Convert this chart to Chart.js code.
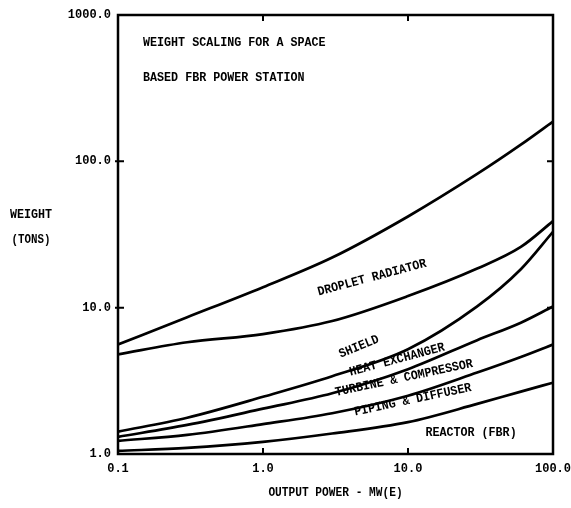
<!DOCTYPE html>
<html><head><meta charset="utf-8">
<script src="https://cdn.jsdelivr.net/npm/chart.js@4/dist/chart.umd.min.js"></script>
<style>html,body{margin:0;padding:0;background:#fff}#wrap{width:571px;height:508px}</style>
</head><body><div id="wrap"><canvas id="c" width="571" height="508"></canvas></div>
<script>
// ---- data ----
const powerMW = [0.1, 0.3, 1, 3, 10, 30, 60, 100];
const dropletRadiator   = [5.6, 8.6, 13.8, 22, 42, 82, 130, 187];
const shield            = [4.8, 5.8, 6.6, 8.1, 12, 18.5, 26, 39];
const heatExchanger     = [1.42, 1.77, 2.46, 3.4, 5.2, 10.2, 18.3, 33];
const turbineCompressor = [1.31, 1.58, 2.04, 2.6, 3.8, 6.0, 7.9, 10.2];
const pipingDiffuser    = [1.23, 1.35, 1.6, 1.9, 2.5, 3.6, 4.6, 5.6];
const reactorFBR        = [1.05, 1.1, 1.21, 1.38, 1.65, 2.2, 2.67, 3.07];
const seriesNames = ['DROPLET RADIATOR','SHIELD','HEAT EXCHANGER','TURBINE & COMPRESSOR','PIPING & DIFFUSER','REACTOR (FBR)'];
const xTicks = [0.1, 1, 10, 100];
const yTicks = [1, 10, 100, 1000];
const titleLines = ['WEIGHT SCALING FOR A SPACE', 'BASED FBR POWER STATION'];
const xTitle = 'OUTPUT POWER - MW(E)';
const yTitle = ['WEIGHT', '(TONS)'];
// label anchor in data coordinates [x, y, angle deg]
const labelAnchors = [[5.65, 16.0, -15], [4.6, 5.4, -22], [8.4, 4.4, -15], [9.4, 3.3, -12], [10.8, 2.34, -12], [27.2, 1.39, 0]];

const allSeries = [dropletRadiator, shield, heatExchanger, turbineCompressor, pipingDiffuser, reactorFBR];
const FONT = '"Liberation Mono", "DejaVu Sans Mono", monospace';

function squeezedText(ctx, text, x, y, angleDeg, size, sx, align) {
  ctx.save();
  ctx.translate(x, y);
  ctx.rotate((angleDeg || 0) * Math.PI / 180);
  ctx.scale(sx, 1);
  ctx.font = 'bold ' + size + 'px ' + FONT;
  ctx.textAlign = align || 'center';
  ctx.textBaseline = 'middle';
  ctx.fillText(text, 0, 0);
  ctx.restore();
}

const decor = {
  id: 'decor',
  afterDraw(chart) {
    const ctx = chart.ctx, a = chart.chartArea;
    const xs = chart.scales.x, ys = chart.scales.y;
    ctx.save();
    ctx.strokeStyle = '#000';
    ctx.lineWidth = 2.5;
    ctx.strokeRect(a.left, a.top, a.right - a.left, a.bottom - a.top);
    // inward ticks
    ctx.lineWidth = 2;
    const tl = 6;
    xTicks.slice(1, -1).forEach(v => {
      const px = xs.getPixelForValue(v);
      ctx.beginPath(); ctx.moveTo(px, a.bottom); ctx.lineTo(px, a.bottom - tl);
      ctx.moveTo(px, a.top); ctx.lineTo(px, a.top + tl); ctx.stroke();
    });
    yTicks.slice(1, -1).forEach(v => {
      const py = ys.getPixelForValue(v);
      ctx.beginPath(); ctx.moveTo(a.left - 3, py); ctx.lineTo(a.left + tl, py);
      ctx.moveTo(a.right, py); ctx.lineTo(a.right - tl, py); ctx.stroke();
    });
    ctx.fillStyle = '#000';
    // in-plot title
    titleLines.forEach((t, i) => squeezedText(ctx, t, a.left + 25, a.top + 28 + i * 35, 0, 13, 0.9, 'left'));
    // y title (horizontal, left of axis)
    squeezedText(ctx, yTitle[0], 31, 215, 0, 13, 0.9);
    squeezedText(ctx, yTitle[1], 31, 240, 0, 12, 0.9);
    // x title
    squeezedText(ctx, xTitle, (a.left + a.right) / 2, a.bottom + 39, 0, 13, 0.86);
    // curve labels
    seriesNames.forEach((n, i) => {
      const [lx, ly, ang] = labelAnchors[i];
      squeezedText(ctx, n, xs.getPixelForValue(lx), ys.getPixelForValue(ly), ang, 13, 0.9);
    });
    ctx.restore();
  }
};

new Chart(document.getElementById('c'), {
  type: 'line',
  data: {
    datasets: allSeries.map((s, i) => ({
      label: seriesNames[i],
      data: powerMW.map((x, j) => ({ x: x, y: s[j] })),
      borderColor: '#000',
      borderWidth: 2.7,
      pointRadius: 0,
      fill: false,
      cubicInterpolationMode: 'monotone'
    }))
  },
  options: {
    responsive: false,
    animation: false,
    events: [],
    layout: { padding: { top: 15, right: 18, left: 0, bottom: 0 } },
    plugins: { legend: { display: false }, tooltip: { enabled: false } },
    scales: {
      x: {
        type: 'logarithmic', min: 0.1, max: 100,
        afterBuildTicks: s => { s.ticks = xTicks.map(v => ({ value: v })); },
        afterFit: s => { s.height = 54; s.paddingLeft = 0; s.paddingRight = 0; },
        grid: { display: false, drawTicks: false }, border: { display: false },
        ticks: { autoSkip: false, maxRotation: 0, padding: 8, color: '#000',
          font: { family: FONT, size: 12, weight: 'bold' },
          callback: v => Number(v).toFixed(1) }
      },
      y: {
        type: 'logarithmic', min: 1, max: 1000,
        afterBuildTicks: s => { s.ticks = yTicks.map(v => ({ value: v })); },
        afterFit: s => { s.width = 118; s.paddingTop = 0; s.paddingBottom = 0; },
        grid: { display: false, drawTicks: false }, border: { display: false },
        ticks: { autoSkip: false, padding: 7, color: '#000',
          font: { family: FONT, size: 12, weight: 'bold' },
          callback: v => Number(v).toFixed(1) }
      }
    }
  },
  plugins: [decor]
});
</script>
</body></html>
